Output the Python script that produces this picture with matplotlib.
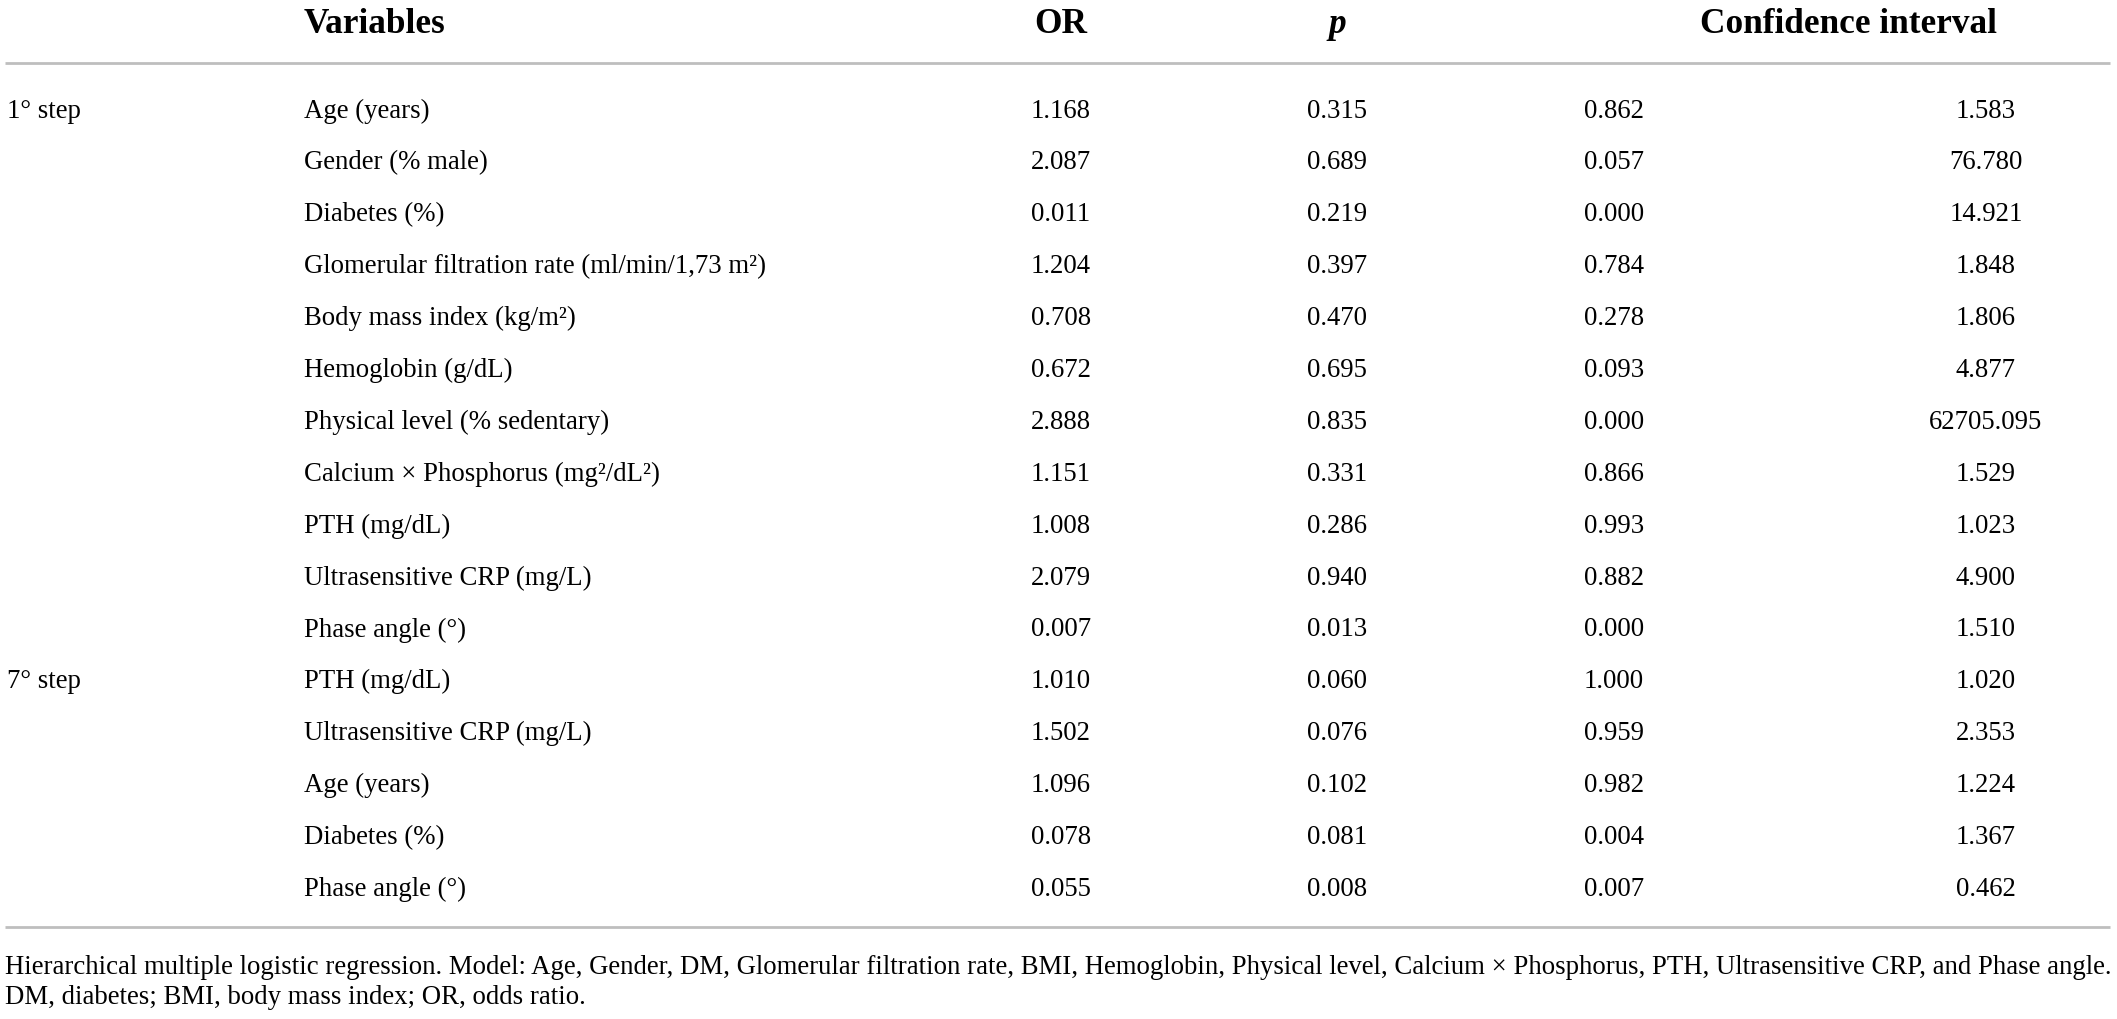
import matplotlib
matplotlib.use("Agg")
import matplotlib.pyplot as plt

plt.rcParams['font.family'] = ['Liberation Serif', 'DejaVu Serif']

steps = ["1° step"] + [""] * 10 + ["7° step"] + [""] * 4
variables = [
    "Age (years)", "Gender (% male)", "Diabetes (%)",
    "Glomerular filtration rate (ml/min/1,73 m²)", "Body mass index (kg/m²)",
    "Hemoglobin (g/dL)", "Physical level (% sedentary)",
    "Calcium × Phosphorus (mg²/dL²)", "PTH (mg/dL)",
    "Ultrasensitive CRP (mg/L)", "Phase angle (°)",
    "PTH (mg/dL)", "Ultrasensitive CRP (mg/L)", "Age (years)",
    "Diabetes (%)", "Phase angle (°)",
]
odds_ratio = [1.168, 2.087, 0.011, 1.204, 0.708, 0.672, 2.888, 1.151, 1.008,
              2.079, 0.007, 1.010, 1.502, 1.096, 0.078, 0.055]
p_values = [0.315, 0.689, 0.219, 0.397, 0.470, 0.695, 0.835, 0.331, 0.286,
            0.940, 0.013, 0.060, 0.076, 0.102, 0.081, 0.008]
ci_low = [0.862, 0.057, 0.000, 0.784, 0.278, 0.093, 0.000, 0.866, 0.993,
          0.882, 0.000, 1.000, 0.959, 0.982, 0.004, 0.007]
ci_high = [1.583, 76.780, 14.921, 1.848, 1.806, 4.877, 62705.095, 1.529, 1.023,
           4.900, 1.510, 1.020, 2.353, 1.224, 1.367, 0.462]
headers = ["Variables", "OR", "p", "Confidence interval"]
footnotes = [
    "Hierarchical multiple logistic regression. Model: Age, Gender, DM, Glomerular filtration rate, BMI, "
    "Hemoglobin, Physical level, Calcium × Phosphorus, PTH, Ultrasensitive CRP, and Phase angle.",
    "DM, diabetes; BMI, body mass index; OR, odds ratio.",
]

W, H = 2117, 1019
fig = plt.figure(figsize=(W / 100, H / 100), dpi=100)
ax = fig.add_axes([0, 0, 1, 1])
ax.set_xlim(0, W)
ax.set_ylim(H, 0)
ax.axis('off')

renderer = fig.canvas.get_renderer()

def fit_size(text, target_px, base=20, **kw):
    t = ax.text(0, 0, text, fontsize=base, **kw)
    w = t.get_window_extent(renderer=renderer).width
    t.remove()
    return base * target_px / w

body_fs = fit_size("Glomerular filtration rate (ml/min/1,73 m²)", 500)
foot_fs = fit_size(footnotes[0], 2105)
fs = min(body_fs, foot_fs)
head_fs = fs * 1.32

x_step, x_var = 7, 304
x_or, x_p, x_lo, x_hi, x_ci_head = 1061, 1337, 1614, 1986, 1848
y_head, y_line1 = 24, 63
y0, dy = 111, 51.9
y_line2 = 927
y_foot = [967, 997]
line_col = '#bebebe'

# headers
ax.text(x_var, y_head, headers[0], fontsize=head_fs, fontweight='bold', ha='left', va='center')
ax.text(x_or, y_head, headers[1], fontsize=head_fs, fontweight='bold', ha='center', va='center')
ax.text(x_p, y_head, headers[2], fontsize=head_fs, fontweight='bold', style='italic', ha='center', va='center')
ax.text(x_ci_head, y_head, headers[3], fontsize=head_fs, fontweight='bold', ha='center', va='center')

ax.plot([5, 2110], [y_line1, y_line1], color=line_col, lw=2.0, solid_capstyle='butt')
ax.plot([5, 2110], [y_line2, y_line2], color=line_col, lw=2.0, solid_capstyle='butt')

for i, var in enumerate(variables):
    y = y0 + i * dy
    if steps[i]:
        ax.text(x_step, y, steps[i], fontsize=fs, ha='left', va='center')
    ax.text(x_var, y, var, fontsize=fs, ha='left', va='center')
    ax.text(x_or, y, f"{odds_ratio[i]:.3f}", fontsize=fs, ha='center', va='center')
    ax.text(x_p, y, f"{p_values[i]:.3f}", fontsize=fs, ha='center', va='center')
    ax.text(x_lo, y, f"{ci_low[i]:.3f}", fontsize=fs, ha='center', va='center')
    ax.text(x_hi, y, f"{ci_high[i]:.3f}", fontsize=fs, ha='center', va='center')

for txt, y in zip(footnotes, y_foot):
    ax.text(5, y, txt, fontsize=foot_fs, ha='left', va='center')

fig.savefig("out.png", dpi=100, facecolor='white')
